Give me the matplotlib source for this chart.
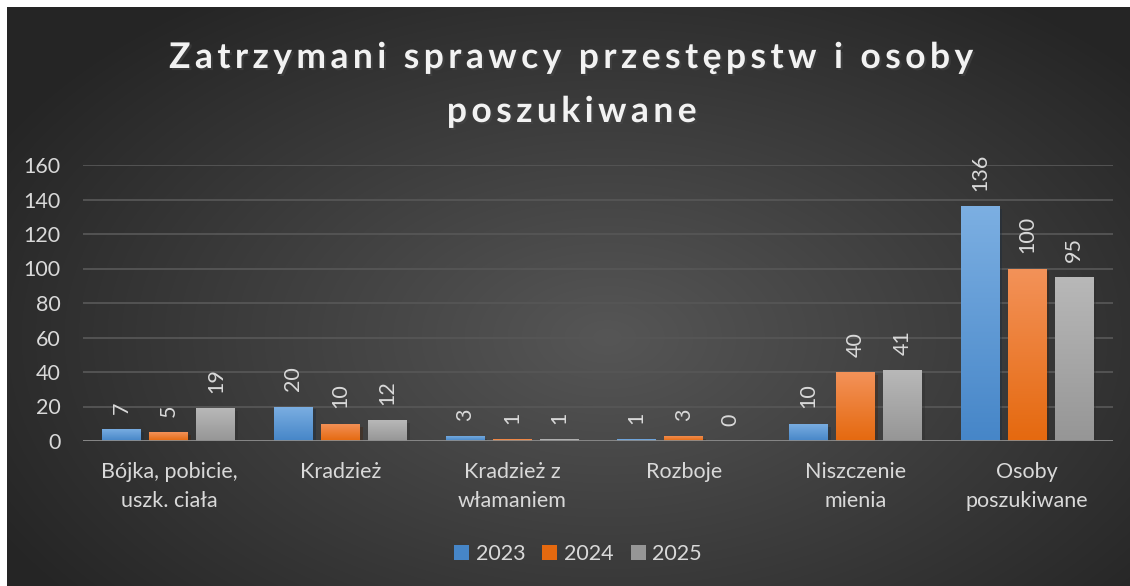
import numpy as np
import matplotlib.pyplot as plt
from matplotlib import patheffects as pe
from matplotlib.patches import Patch
from matplotlib.colors import LinearSegmentedColormap

plt.rcParams['font.family'] = ['Lato', 'DejaVu Sans']

categories = ['Bójka, pobicie,\nuszk. ciała', 'Kradzież', 'Kradzież z\nwłamaniem',
              'Rozboje', 'Niszczenie\nmienia', 'Osoby\nposzukiwane']
years = ['2023', '2024', '2025']
v2023 = [7, 20, 3, 1, 10, 136]
v2024 = [5, 10, 1, 3, 40, 100]
v2025 = [19, 12, 1, 0, 41, 95]
yticks = [0, 20, 40, 60, 80, 100, 120, 140, 160]

# (top colour, bottom colour) for the gradient fill
grad = [('#7cafe2', '#4686c8'), ('#f39259', '#e5690f'), ('#b8b8b8', '#969696')]
txt = '#d9d9d9'
fs = 15.5

W, H = 1130, 586
fig = plt.figure(figsize=(W / 100, H / 100), dpi=100, facecolor='white')

# dark radial background
bg = fig.add_axes([7 / W, 0, 1 - 7 / W, 1 - 7 / H])
bg.axis('off')
yy, xx = np.mgrid[0:579, 0:1123]
r = np.sqrt(((xx - 600) / 700.0) ** 2 + ((yy - 330) / 420.0) ** 2)
r = np.clip(r, 0, 1)
shade = (0x56 + (0x25 - 0x56) * r) / 255.0
bg.imshow(np.dstack([shade] * 3), aspect='auto', interpolation='bilinear')

ax = fig.add_axes([83 / W, 1 - 441 / H, 1030 / W, 276 / H])
ax.set_facecolor('none')
for s in ax.spines.values():
    s.set_visible(False)

x = np.arange(len(categories))
bw = 0.227
step = 0.274
series = [v2023, v2024, v2025]
for i, vals in enumerate(series):
    bars = ax.bar(x + (i - 1) * step, vals, bw, color=grad[i][1], zorder=3,
                  path_effects=[pe.SimplePatchShadow(offset=(2, -2), alpha=0.35), pe.Normal()])
    cmap = LinearSegmentedColormap.from_list('g%d' % i, [grad[i][1], grad[i][0]])
    for b in bars:
        if b.get_height() <= 0:
            continue
        x0, w, h = b.get_x(), b.get_width(), b.get_height()
        im = ax.imshow(np.linspace(0, 1, 100).reshape(-1, 1), cmap=cmap, origin='lower',
                       extent=(x0, x0 + w, 0, h), aspect='auto', zorder=4)
        im.set_clip_path(b)
    for xi, v in zip(x + (i - 1) * step, vals):
        ax.annotate(str(v), (xi, v), xytext=(0, 11), textcoords='offset points',
                    rotation=90, ha='center', va='bottom', color=txt, fontsize=fs)

ax.set_xlim(-0.5, 5.5)
ax.set_ylim(0, 160)
ax.set_yticks(yticks)
ax.set_xticks(x)
ax.set_xticklabels(categories, linespacing=1.6)
ax.tick_params(axis='both', length=0, colors=txt, labelsize=fs)
ax.tick_params(axis='y', pad=16)
ax.tick_params(axis='x', pad=15)
ax.yaxis.grid(True, color='#565656', lw=1.3, zorder=0)
ax.set_axisbelow(True)
ax.axhline(0, color='#8c8c8c', lw=2, zorder=5)

def spaced(s):
    return '\u200a\u200a'.join(s)

shadow = [pe.SimplePatchShadow(offset=(1.5, -1.5), alpha=0.5), pe.Normal()]
fig.text(572 / W, 1 - 68 / H, spaced('Zatrzymani sprawcy przestępstw i osoby'),
         ha='center', va='baseline', fontsize=25.5, weight='bold', color='#f2f2f2',
         path_effects=shadow)
fig.text(572 / W, 1 - 122 / H, spaced('poszukiwane'),
         ha='center', va='baseline', fontsize=25.5, weight='bold', color='#f2f2f2',
         path_effects=shadow)

handles = [Patch(facecolor=grad[i][1], label=years[i]) for i in range(3)]
fig.legend(handles=handles, loc='center', bbox_to_anchor=(578 / W, 1 - 554 / H), ncol=3,
           frameon=False, fontsize=fs, labelcolor=txt, handlelength=0.7, handleheight=0.7,
           handletextpad=0.3, columnspacing=0.8)

fig.savefig('out.png', dpi=100, facecolor='white')
